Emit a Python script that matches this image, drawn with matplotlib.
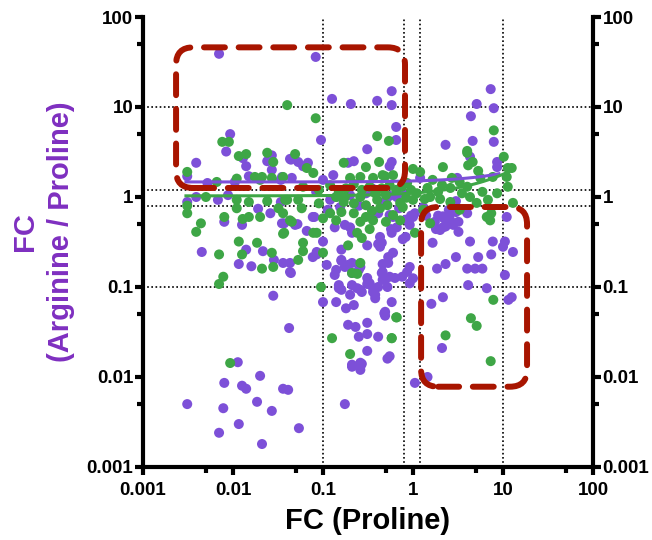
import numpy as np
import matplotlib.pyplot as plt
from matplotlib.patches import FancyBboxPatch

plt.rcParams['font.family'] = ['Liberation Sans', 'DejaVu Sans']
plt.rcParams['font.weight'] = 'bold'

# FC(Proline), FC(Arginine/Proline) pairs for the two groups
purple_pts = [
    (0.007, 39), (0.083, 36), (0.126, 12.3), (0.204, 10.8), (0.40, 11.7), (0.58, 15), (0.58, 10.5),
    (0.65, 6.0), (0.65, 4.3), (0.31, 3.4), (0.095, 4.3),
    (0.0093, 5.0), (0.0084, 3.2), (0.0039, 2.4), (0.0031, 1.7), (0.0129, 2.7), (0.014, 2.2), (0.015, 1.7),
    (0.027, 2.9), (0.024, 2.5), (0.027, 2.0), (0.044, 2.6), (0.053, 2.45), (0.068, 2.4), (0.060, 2.2),
    (0.13, 1.75), (0.19, 2.4), (0.22, 2.5), (0.55, 2.2), (0.58, 2.45), (0.043, 2.65), (0.10, 1.55),
    (0.035, 1.67), (0.045, 1.63),
    (7.3, 15.8), (5.1, 10.8), (7.9, 9.7), (4.4, 7.9), (7.9, 4.1), (4.6, 4.2), (2.3, 3.8), (4.3, 2.8),
    (8.6, 2.15), (8.6, 2.45), (3.1, 1.63), (1.2, 1.63),
    (0.0052, 1.43), (0.0105, 1.47), (0.0031, 0.88), (0.0039, 1.0), (0.0068, 0.93), (0.0088, 1.05),
    (0.034, 1.55), (0.034, 0.88), (0.019, 0.74), (0.026, 0.66), (0.008, 0.53), (0.0126, 0.49),
    (0.037, 0.51), (0.0045, 0.245), (0.014, 0.26), (0.0116, 0.18), (0.016, 0.17), (0.0215, 0.25),
    (0.0285, 0.2), (0.036, 0.185), (0.044, 0.143), (0.028, 0.08), (0.042, 0.035), (0.0113, 0.0146),
    (0.02, 0.0103),
    (0.052, 0.5), (0.066, 0.42), (0.08, 0.6), (0.085, 0.23), (0.1, 0.32), (0.1, 0.068), (0.155, 0.77),
    (0.14, 0.068), (0.16, 0.26), (0.16, 0.2), (0.135, 0.136), (0.18, 0.058), (0.19, 0.038), (0.23, 0.036),
    (0.26, 0.013), (0.31, 0.04), (0.31, 0.0195), (0.31, 0.03), (0.41, 0.028), (0.52, 0.016), (0.48, 0.051),
    (0.58, 0.068),
    (0.084, 1.14), (0.12, 0.93), (0.2, 1.05), (0.113, 0.72), (0.077, 0.6), (0.049, 0.49), (0.035, 0.51),
    (0.36, 0.66), (0.41, 0.66), (0.55, 0.63), (0.55, 1.03), (0.135, 0.46), (0.175, 0.49), (0.2, 0.46),
    (0.21, 0.4), (0.66, 0.46), (0.58, 0.4), (0.83, 0.36), (0.43, 0.36), (0.45, 0.31), (0.31, 0.29),
    (0.085, 0.245), (0.077, 0.215), (0.11, 0.176), (0.175, 0.167), (0.21, 0.185), (0.25, 0.155),
    (0.31, 0.126), (0.31, 0.108), (0.45, 0.143), (0.53, 0.185), (0.46, 0.12), (0.63, 0.126), (0.15, 0.097),
    (0.2, 0.082), (0.26, 0.093), (0.36, 0.097), (0.043, 0.185), (0.043, 0.147),
    (0.16, 0.195), (0.19, 0.176), (0.14, 0.155), (0.21, 0.143), (0.26, 0.167), (0.15, 0.105), (0.16, 0.093),
    (0.21, 0.105), (0.24, 0.097), (0.27, 0.088), (0.33, 0.11), (0.36, 0.088), (0.38, 0.075), (0.41, 0.1),
    (0.46, 0.147), (0.49, 0.12), (0.53, 0.215), (0.46, 0.18), (0.43, 0.28), (0.41, 0.3), (0.52, 0.1),
    (0.55, 0.13), (0.76, 0.13), (0.86, 0.147), (0.92, 0.167), (1.0, 0.125), (0.92, 0.11), (0.22, 0.063),
    (0.38, 0.082), (0.49, 0.053), (0.49, 0.048), (0.25, 0.028), (0.21, 0.013), (0.27, 0.014), (0.175, 0.005),
    (3.0, 0.9), (3.0, 0.68), (4.0, 0.66), (1.75, 0.53), (2.2, 0.58), (2.0, 0.43), (3.2, 0.41), (1.0, 0.6),
    (0.92, 0.49), (1.65, 0.31), (4.3, 0.32), (7.7, 0.32), (10.5, 0.32), (10.0, 0.28), (11.0, 0.6),
    (12.9, 0.245), (3.0, 0.215), (5.3, 0.215), (7.4, 0.23), (1.85, 0.16), (2.3, 0.18), (4.0, 0.16),
    (4.9, 0.16), (5.9, 0.16), (10.5, 0.136), (4.1, 0.105), (6.6, 0.097), (2.15, 0.077), (1.6, 0.065),
    (11.5, 0.072), (12.5, 0.077), (2.1, 0.021), (1.45, 0.01), (1.05, 0.0086), (0.6, 0.24), (0.55, 0.017),
    (1.3, 0.77), (2.15, 0.61), (2.6, 0.66), (2.15, 0.46), (1.8, 0.44), (2.3, 0.47), (0.83, 0.56),
    (1.05, 0.66), (0.6, 0.6), (0.5, 0.92), (0.66, 1.0), (0.95, 0.62), (1.4, 0.62), (1.9, 0.62), (2.5, 0.72),
    (2.6, 0.55), (2.8, 0.49), (3.2, 0.53), (0.77, 0.34), (0.57, 0.44),
    (0.0031, 0.005), (0.007, 0.0024), (0.0078, 0.0045), (0.008, 0.0086), (0.0116, 0.003), (0.0126, 0.008),
    (0.014, 0.0074), (0.0185, 0.0053), (0.021, 0.0018), (0.027, 0.0042), (0.036, 0.0074), (0.041, 0.0072),
    (0.054, 0.0027), (0.21, 0.0137), (0.26, 0.0144), (0.26, 0.012),
    (0.25, 0.8), (0.3, 1.1), (0.45, 0.85), (0.7, 0.75), (0.8, 1.1), (0.14, 1.0), (0.35, 1.25),
]

green_pts = [
    (0.04, 10.5), (0.083, 7.5), (0.4, 4.75), (0.54, 4.2), (0.0076, 4.1), (0.009, 4.1), (0.0116, 2.85),
    (0.014, 3.0), (0.024, 3.1), (0.028, 2.45), (0.049, 3.0), (0.0031, 1.9), (0.0066, 1.47), (0.011, 1.6),
    (0.0175, 1.67), (0.021, 1.67), (0.027, 1.63), (0.036, 1.67), (0.066, 2.1), (0.078, 1.85), (0.17, 2.4),
    (0.2, 1.63), (0.3, 2.15), (0.42, 2.45), (0.36, 1.63), (0.46, 1.75), (0.6, 1.75), (0.49, 1.7), (0.26, 1.67),
    (0.0031, 0.66), (0.0044, 0.51), (0.0039, 0.41), (0.007, 0.23), (0.0078, 0.13), (0.007, 0.108),
    (0.008, 0.6), (0.0116, 0.32), (0.0126, 0.23), (0.0185, 0.31), (0.021, 0.16), (0.027, 0.24),
    (0.028, 0.167), (0.036, 0.39), (0.045, 0.53), (0.06, 0.31), (0.053, 0.2), (0.078, 0.4), (0.095, 0.1),
    (0.126, 0.027), (0.2, 0.018), (0.58, 0.027), (0.65, 0.046), (0.0093, 0.0143), (0.011, 0.75),
    (0.0128, 0.57), (0.015, 0.6), (0.02, 0.6), (0.011, 0.93), (0.015, 0.88), (0.0031, 0.8), (0.005, 1.0),
    (0.02, 1.55), (0.024, 0.9), (0.032, 0.75), (0.04, 0.93), (0.06, 0.25), (0.1, 0.24), (0.24, 0.14),
    (0.038, 0.93), (0.053, 0.93), (0.14, 1.0), (0.17, 0.88), (0.26, 1.0), (0.3, 0.81), (0.4, 0.93),
    (0.52, 0.81), (0.72, 0.86), (0.84, 0.98), (0.12, 0.66), (0.16, 0.68), (0.22, 0.66), (0.3, 0.6),
    (0.43, 0.75), (0.6, 0.63), (0.036, 0.66), (0.043, 0.55), (0.058, 0.75), (0.26, 0.53), (0.36, 0.55),
    (0.5, 0.53), (0.72, 0.55), (0.14, 0.55), (0.1, 0.58), (0.037, 0.4), (0.085, 0.4), (0.33, 0.44),
    (0.27, 0.35), (0.24, 0.4), (0.19, 0.29), (0.26, 0.185), (0.21, 0.143), (0.175, 1.0),
    (0.06, 1.3), (0.09, 1.2), (0.12, 1.35), (0.15, 1.15), (0.18, 1.25), (0.22, 1.4), (0.27, 1.2),
    (0.33, 1.3), (0.38, 1.1), (0.45, 1.25), (0.55, 1.35), (0.65, 1.2), (0.75, 1.3), (0.5, 1.05),
    (0.09, 0.85), (0.22, 0.85), (0.35, 0.7),
    (7.9, 5.5), (10.2, 2.8), (4.0, 3.1), (2.15, 2.15), (4.1, 2.25), (5.3, 1.95), (4.6, 2.45), (11.3, 2.1),
    (12.5, 2.1), (11.0, 1.67), (11.3, 1.3), (8.6, 1.1), (7.7, 1.67), (1.0, 2.05), (1.2, 1.9), (1.65, 1.55),
    (2.1, 1.36), (2.7, 1.63), (2.6, 1.26), (4.0, 1.3), (4.3, 1.0), (5.9, 1.14), (5.1, 0.86), (6.8, 0.93),
    (1.45, 1.26), (1.55, 1.0), (0.86, 1.43), (0.77, 0.77), (1.0, 0.93), (1.3, 0.72), (2.6, 0.88),
    (3.3, 0.72), (1.55, 0.51), (1.05, 0.4), (6.6, 0.6), (7.4, 0.66), (12.9, 0.86), (1.9, 1.14), (3.3, 1.47),
    (4.0, 3.25), (5.6, 1.63), (7.2, 0.55), (7.8, 0.072), (4.4, 0.045), (5.1, 0.037), (2.3, 0.029),
    (7.3, 0.015), (0.66, 0.046), (0.58, 0.027), (1.1, 1.1), (1.35, 0.95), (0.95, 1.2), (2.0, 0.95), (3.5, 1.1),
]

# linear fits (y = a + b*x) and the x range each one covers
purple_fit = (1.47, 0.038)
purple_fit_range = (0.003, 9.0)
green_fit = (1.03, 0.076)
green_fit_range = (0.003, 12.0)

# cut-off guides
x_guides = [0.1, 0.8, 1.2, 10]
y_guides = [10, 1.2, 0.8, 0.1]

# highlighted regions: (x0, x1, y0, y1)
regions = [(0.00233, 0.815, 1.26, 46), (1.23, 18.5, 0.0078, 0.774)]

tick_vals = [0.001, 0.01, 0.1, 1, 10, 100]
tick_labels = ['0.001', '0.01', '0.1', '1', '10', '100']
minor_vals = [0.005, 0.05, 0.5, 5, 50]

purple = '#7D50D8'
green = '#3EA646'
red = '#A81500'
label_purple = '#7E2FC0'

px, py = np.array(purple_pts).T
gx, gy = np.array(green_pts).T

fig = plt.figure(figsize=(6.52, 5.40), dpi=100)
ax = fig.add_axes([143 / 652, 1 - 467 / 540, 450 / 652, 450 / 540])
ax.set_xscale('log')
ax.set_yscale('log')
ax.set_xlim(0.001, 100)
ax.set_ylim(0.001, 100)

for v in x_guides:
    ax.axvline(v, color='black', lw=1.2, linestyle=(0, (1, 1.5)), zorder=1)
for v in y_guides:
    ax.axhline(v, color='black', lw=1.2, linestyle=(0, (1, 1.5)), zorder=1)

ax.scatter(px, py, s=52, color=purple, edgecolors='none', zorder=3)
ax.scatter(gx, gy, s=52, color=green, edgecolors='none', zorder=3)

for (a, b), (x0, x1), c in [(purple_fit, purple_fit_range, purple), (green_fit, green_fit_range, green)]:
    xs = np.geomspace(x0, x1, 100)
    ax.plot(xs, a + b * xs, color=c, lw=2.2, zorder=4)

# rounded dashed boxes, drawn in axes fraction so the corners stay round on log axes
to_axes = ax.transData + ax.transAxes.inverted()
for x0, x1, y0, y1 in regions:
    (ax0, ay0), (ax1, ay1) = to_axes.transform([(x0, y0), (x1, y1)])
    box = FancyBboxPatch((ax0, ay0), ax1 - ax0, ay1 - ay0,
                         boxstyle='round,pad=0,rounding_size=0.038',
                         transform=ax.transAxes, fill=False, edgecolor=red,
                         lw=4.3, linestyle=(0, (3.5, 2.3)), capstyle='round',
                         zorder=5, clip_on=False)
    ax.add_patch(box)

for axis in (ax.xaxis, ax.yaxis):
    axis.set_major_locator(plt.FixedLocator(tick_vals))
    axis.set_major_formatter(plt.FixedFormatter(tick_labels))
    axis.set_minor_locator(plt.FixedLocator(minor_vals))
    axis.set_minor_formatter(plt.NullFormatter())

for s in ['left', 'right', 'bottom']:
    ax.spines[s].set_linewidth(3)
ax.spines['top'].set_visible(False)

ax.tick_params(which='major', length=6, width=3, labelsize=13.5)
ax.tick_params(which='minor', length=4.5, width=3)
ax.tick_params(axis='x', which='both', direction='out', pad=5)
ax.tick_params(axis='y', which='both', direction='out', pad=1, right=True, labelright=True)
for lab in ax.get_xticklabels() + ax.get_yticklabels():
    lab.set_fontweight('bold')

fig.text(368 / 652, 1 - 521 / 540, 'FC (Proline)', ha='center', va='center',
         fontsize=21, fontweight='bold')
fig.text(43 / 652, 1 - 232 / 540, 'FC\n(Arginine / Proline)', ha='center', va='center',
         rotation=90, fontsize=21, fontweight='bold', color=label_purple,
         multialignment='center', linespacing=1.4)

fig.savefig('out.png', dpi=100)
